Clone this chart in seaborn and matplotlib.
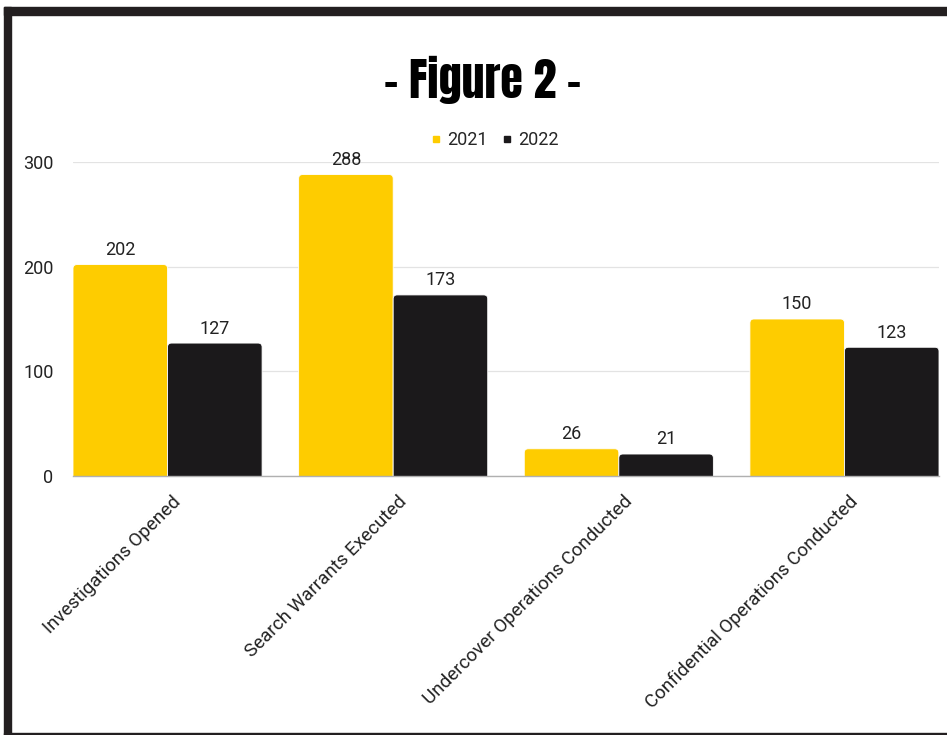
import pandas as pd
import seaborn as sns
import matplotlib.pyplot as plt
from matplotlib.patches import Rectangle, FancyBboxPatch
from matplotlib.lines import Line2D
import matplotlib.transforms as mtransforms

# data
categories = ['Investigations Opened', 'Search Warrants Executed',
              'Undercover Operations Conducted', 'Confidential Operations Conducted']
years = ['2021', '2022']
values_2021 = [202, 288, 26, 150]
values_2022 = [127, 173, 21, 123]
yticks = [0, 100, 200, 300]

colors = {'2021': '#fecc00', '2022': '#1b191b'}

df = pd.DataFrame({
    'category': categories * 2,
    'year': ['2021'] * len(categories) + ['2022'] * len(categories),
    'count': values_2021 + values_2022,
})

sns.set_theme(style='white')
plt.rcParams['font.family'] = ['Roboto', 'DejaVu Sans']

W, H = 947, 735
fig = plt.figure(figsize=(W / 100, H / 100), dpi=100)
ax = fig.add_axes([73 / W, (H - 476) / H, 866 / W, 314 / H])

sns.barplot(data=df, x='category', y='count', hue='year', palette=colors,
            width=0.838, saturation=1, edgecolor='white', linewidth=0.6,
            legend=False, ax=ax)

ax.set_xlim(-0.419, 3.419)
ax.set_ylim(0, 300)

# value labels
for cont in ax.containers:
    ax.bar_label(cont, padding=4, fontsize=13, color='#222222')

# rounded bar tops (bottom corners hidden under the baseline)
px_x = (3.419 + 0.419) / 866
px_y = 300 / 314
r = 4
for p in list(ax.patches):
    x, y, w, h = p.get_x(), p.get_y(), p.get_width(), p.get_height()
    fb = FancyBboxPatch((x, y - r * px_y), w, h + r * px_y,
                        boxstyle=f'round,pad=0,rounding_size={r * px_x}',
                        mutation_aspect=px_y / px_x,
                        facecolor=p.get_facecolor(), edgecolor='white',
                        linewidth=0.6, zorder=p.get_zorder())
    p.set_visible(False)
    ax.add_patch(fb)

ax.set_yticks(yticks)
ax.set_xlabel('')
ax.set_ylabel('')
ax.yaxis.grid(True, color='#e3e3e3', linewidth=0.9)
ax.set_axisbelow(True)
for s in ['left', 'right', 'top']:
    ax.spines[s].set_visible(False)
ax.spines['bottom'].set_color('#b0b0b0')
ax.spines['bottom'].set_linewidth(1)
ax.spines['bottom'].set_zorder(5)
ax.tick_params(axis='both', length=0, labelsize=13, colors='#222222')
ax.tick_params(axis='y', pad=14)
ax.tick_params(axis='x', pad=12, labelsize=13.5)

offset = mtransforms.ScaledTranslation(0.04, 0.0, fig.dpi_scale_trans)
for lab in ax.get_xticklabels():
    lab.set_rotation(45)
    lab.set_ha('right')
    lab.set_rotation_mode('anchor')
    lab.set_transform(lab.get_transform() + offset)

# legend
handles = [Line2D([], [], marker='s', linestyle='', markersize=5,
                  color=colors[y]) for y in years]
fig.legend(handles, years, loc='center', bbox_to_anchor=(493 / W, 1 - 140 / H),
           ncol=2, frameon=False, fontsize=13, handletextpad=0.1,
           columnspacing=0.6, handlelength=1.0)

# title
fig.text(483 / W, 1 - 80 / H, '- Figure 2 -', ha='center', va='center',
         fontsize=33, family=['Anton', 'League Gothic', 'DejaVu Sans'],
         color='black')

# page frame
fig.add_artist(Rectangle((4 / W, 0), 7 / W, 1 - 7 / H, transform=fig.transFigure,
                         color='#231f20', zorder=10))
fig.add_artist(Rectangle((4 / W, 1 - 15 / H), 1 - 4 / W, 8 / H,
                         transform=fig.transFigure, color='#231f20', zorder=10))
fig.add_artist(Rectangle((4 / W, 0), 1 - 4 / W, 2 / H, transform=fig.transFigure,
                         color='#231f20', zorder=10))

fig.savefig('out.png', dpi=100)
